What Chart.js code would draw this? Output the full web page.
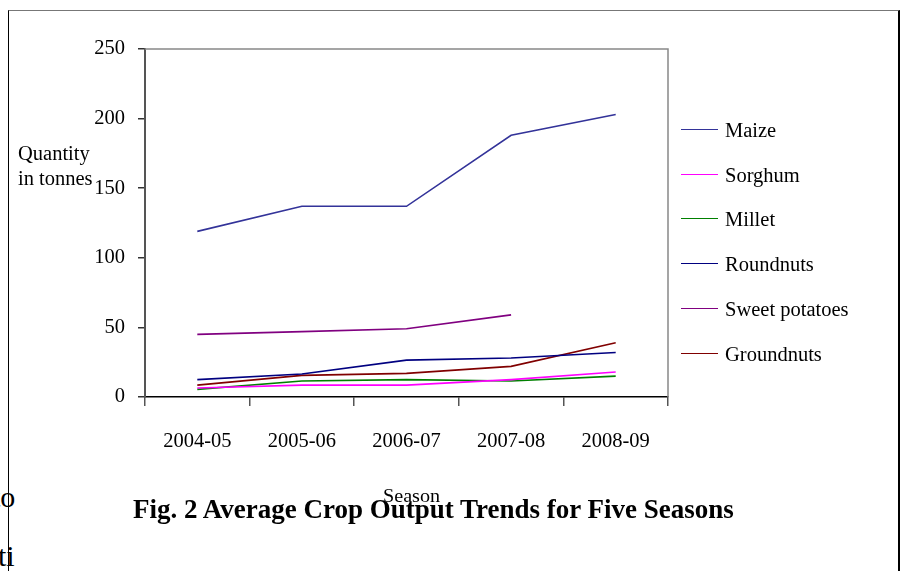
<!DOCTYPE html>
<html>
<head>
<meta charset="utf-8">
<script src="https://cdn.jsdelivr.net/npm/chart.js@4.4.1/dist/chart.umd.min.js"></script>
<style>
  html, body { margin: 0; padding: 0; background: #fff; }
  body { width: 900px; height: 571px; position: relative; overflow: hidden;
         font-family: "Liberation Serif", "Times New Roman", serif; color: #000; }
  #priceChart { position: absolute; left: 0; top: 0; }
  .txt { position: absolute; white-space: nowrap; line-height: 1; }
  #frame { position: absolute; left: 8px; top: 10px; width: 889px; height: 580px;
           border-top: 1.5px solid #777; border-left: 1px solid #000; border-right: 2px solid #000; }
  #legend { position: absolute; left: 0; top: 0; }
  .legRow { position: absolute; left: 681px; height: 24px; font-size: 20.5px; line-height: 24px; white-space: nowrap; }
  .legRow span.sw { position: absolute; left: 0; top: 11px; width: 37px; height: 0; border-top: 1.5px solid; }
  .legRow span.lb { position: absolute; left: 44px; top: 0; }
</style>
</head>
<body>
<div class="txt" style="left:-8px; top:482px; font-size:30px;">to</div>
<div class="txt" style="left:-2px; top:541px; font-size:30px;">ti</div>
<div id="frame"></div>
<canvas id="priceChart" width="900" height="571"></canvas>
<div class="txt" style="left:18px; top:141px; font-size:20.5px; line-height:25px;">Quantity<br>in tonnes</div>
<div id="legend"></div>
<div class="txt" style="left:383px; top:487px; font-size:18px; transform:scaleX(1.12); transform-origin:0 0;">Season</div>
<div class="txt" style="left:133px; top:496px; font-size:27px; font-weight:bold;">Fig. 2 Average Crop Output Trends for Five Seasons</div>

<script>
// Seasons (x axis)
const seasons = ["2004-05", "2005-06", "2006-07", "2007-08", "2008-09"];

// Average output, tonnes
const maize = [119, 137, 137, 188, 203];
const sorghum = [6.5, 8.5, 8.5, 12.5, 18];
const millet = [5.5, 11.5, 12.5, 11.5, 15];
const roundnuts = [12.5, 16.5, 26.5, 28, 32];
const sweetPotatoes = [45, 47, 49, 59, null];
const groundnuts = [8.5, 15.5, 17, 22, 39];

const yTicks = [0, 50, 100, 150, 200, 250];

const seriesNames = ["Maize", "Sorghum", "Millet", "Roundnuts", "Sweet potatoes", "Groundnuts"];
const seriesData = [maize, sorghum, millet, roundnuts, sweetPotatoes, groundnuts];
const seriesColors = ["#333399", "#ff00ff", "#008000", "#000080", "#800080", "#800000"];

const chartCanvas = document.getElementById("priceChart");

// gray top/right edges of the plot area
const plotBorder = {
  id: "plotBorder",
  beforeDatasetsDraw(chart) {
    const { ctx, chartArea } = chart;
    ctx.save();
    ctx.strokeStyle = "#888";
    ctx.lineWidth = 1.5;
    ctx.beginPath();
    ctx.moveTo(chartArea.left, chartArea.top);
    ctx.lineTo(chartArea.right, chartArea.top);
    ctx.lineTo(chartArea.right, chartArea.bottom);
    ctx.stroke();
    ctx.restore();
  }
};

Chart.defaults.font.family = '"Liberation Serif", "Times New Roman", serif';
Chart.defaults.font.size = 20.5;
Chart.defaults.color = "#000";

const cropChart = new Chart(chartCanvas, {
  type: "line",
  data: {
    labels: seasons,
    datasets: seriesNames.map((name, i) => ({
      label: name,
      data: seriesData[i],
      borderColor: seriesColors[i],
      backgroundColor: seriesColors[i],
      borderWidth: 1.6,
      pointRadius: 0,
      fill: false,
      tension: 0,
      spanGaps: false
    }))
  },
  options: {
    responsive: false,
    animation: false,
    devicePixelRatio: 1,
    layout: { padding: { left: 0, top: 49, right: 232, bottom: 0 } },
    plugins: { legend: { display: false }, tooltip: { enabled: false } },
    scales: {
      x: {
        type: "category",
        offset: true,
        grid: { offset: true, drawOnChartArea: false, drawTicks: true, tickLength: 9, color: "#555", lineWidth: 1.5 },
        border: { color: "#000", width: 1.5 },
        ticks: { padding: 23, maxRotation: 0, autoSkip: false },
        afterFit: scale => { scale.height = 174; }
      },
      y: {
        min: 0,
        max: 250,
        afterBuildTicks: scale => { scale.ticks = yTicks.map(v => ({ value: v })); },
        grid: { drawOnChartArea: false, drawTicks: true, tickLength: 7, color: "#333", lineWidth: 1.5 },
        border: { color: "#555", width: 2 },
        ticks: { padding: 13 },
        afterFit: scale => { scale.width = 145; }
      }
    }
  },
  plugins: [plotBorder]
});

// legend on the right, built from the series
const legend = document.getElementById("legend");
seriesNames.forEach((name, i) => {
  const row = document.createElement("div");
  row.className = "legRow";
  row.style.top = (130 + i * 44.7 - 12) + "px";
  row.innerHTML = '<span class="sw" style="border-color:' + seriesColors[i] + '"></span><span class="lb">' + name + "</span>";
  legend.appendChild(row);
});
</script>
</body>
</html>
